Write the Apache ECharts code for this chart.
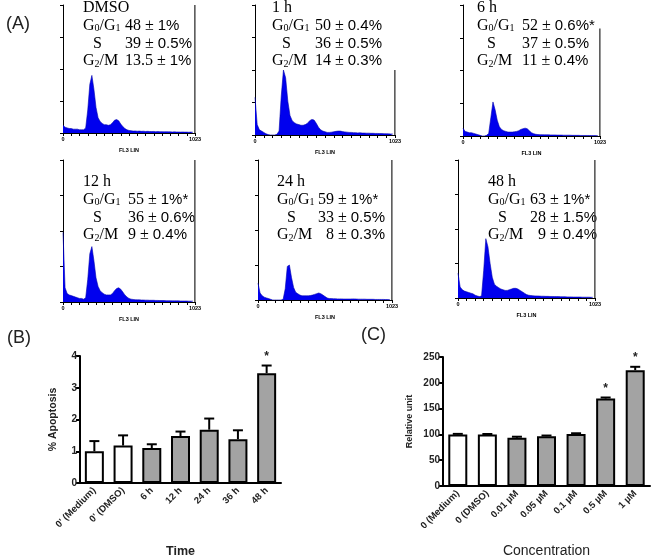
<!DOCTYPE html>
<html>
<head>
<meta charset="utf-8">
<script src="https://cdn.jsdelivr.net/npm/echarts@6/dist/echarts.min.js"></script>
<style>html,body{margin:0;padding:0;background:#fff}#main{width:653px;height:559px}</style>
</head>
<body>
<div id="main"></div>
<script>
// (A) DNA histograms, 16-channel bins from channel 0, % of full scale
var binStep = 16;
var histDMSO = [6,4.5,4,3.5,3.5,3,3,3,2.5,2.5, 2.5,4,18,38,45,34,20,12,9,7.5, 6.5,6.5,6,6.5,8,10,10.5,9.5,7,5, 3.5,2.5,2,1.8,1.5,1.6,1.4,1.5,1.3,1.4, 1.2,1.3,1.2,1.1,1.2,1.0,1.1,1.0,1.0,0.9, 1.0,0.9,0.9,0.8,0.9,0.8,0.8,0.7,0.8,0.7, 0.7,0.6,0.7,0.6];
var hist1h = [29,8,4,3,2,1,0.3,0,0,0, 0.5,3,30,50,44,26,15,11,9.5,8.5, 8,7.5,7.5,8,9,11,12,11.5,9,6, 4,3,2.5,2,2,2.2,2.5,2.8,3,3, 2.6,2.4,2.2,2,2,1.8,1.8,1.6,1.7,1.5, 1.5,1.4,1.4,1.3,1.3,1.2,1.2,1.1,1.1,1, 1,0.9,0.8,0.8];
var hist6h = [6,3.5,3,2.5,2.5,2,1.5,1,0.5,0, 0,0.5,2,14,26,20,12,7,5,4, 3.5,3,3,3,3.2,3.5,4,5,5.5,6, 5.5,4,2.5,1.8,1.3,1.1,1,1,0.9,0.9, 0.9,0.8,0.8,0.8,0.7,0.7,0.7,0.6,0.6,0.6, 0.6,0.5,0.5,0.5,0.5,0.4,0.4,0.4,0.4,0.4, 0.3,0.3,0.3,0.3];
var hist12h = [49,10,6,5,4.5,4,3.5,3,2.5,2.5, 2,3,16,34,39,29,17,11,8,6.5, 5.5,5,5,5,6,8,9.5,10,9,7, 5,3.5,2.5,2,1.8,1.6,1.5,1.5,1.4,1.4, 1.3,1.3,1.2,1.2,1.2,1.1,1.1,1,1,1, 0.9,0.9,0.9,0.8,0.8,0.8,0.8,0.7,0.7,0.7, 0.7,0.6,0.6,0.6];
var hist24h = [12,5,3,2,1.5,1,0.5,0,0,0, 0,0,0.5,8,24,25,16,9,5.5,4.5, 3.5,3,3,3,3,3.2,3.5,4,4.5,5, 4.5,3.5,2.5,1.5,1,1,0.9,0.9,0.8,0.8, 0.8,0.7,0.7,0.7,0.7,0.8,0.8,0.7,0.6,0.6, 0.6,0.6,0.5,0.5,0.5,0.5,0.4,0.4,0.4,0.4, 0.4,0.3,0.3,0.3];
var hist48h = [18,8,6,5,4.5,4,3.5,3,2,1.5, 1,1.5,20,43,37,25,15,10,8.5,7.5, 6.5,6,5.5,5.5,6,6.5,7,7,6.5,5.5, 4.5,3.5,2.5,2,1.8,1.6,1.5,1.5,1.4,1.3, 1.3,1.2,1.2,1.1,1.1,1,1,1,0.9,0.9, 0.9,0.8,0.8,0.8,0.7,0.7,0.7,0.7,0.6,0.6, 0.6,0.6,0.5,0.5];
var histAll = [histDMSO, hist1h, hist6h, hist12h, hist24h, hist48h];
var overflow = [100, 50, 82, 100, 100, 100]; // last channel (1023) pile-up

var panelTitles = ['DMSO', '1 h', '6 h', '12 h', '24 h', '48 h'];
var g01Vals = ['48 ± 1%', '50 ± 0.4%', '52 ± 0.6%*', '55 ± 1%*', '59 ± 1%*', '63 ± 1%*'];
var sVals = ['39 ± 0.5%', '36 ± 0.5%', '37 ± 0.5%', '36 ± 0.6%', '33 ± 0.5%', '28 ± 1.5%'];
var g2mVals = ['13.5 ± 1%', '14 ± 0.3%', '11 ± 0.4%', '9 ± 0.4%', '\u20078 ± 0.3%', '\u20079 ± 0.4%'];

// (B) apoptosis
var apopCats = ["0' (Medium)", "0' (DMSO)", '6 h', '12 h', '24 h', '36 h', '48 h'];
var apopVals = [1.0, 1.18, 1.1, 1.48, 1.68, 1.38, 3.46];
var apopErrTop = [1.32, 1.5, 1.22, 1.62, 2.03, 1.66, 3.7];
var apopStar = [0, 0, 0, 0, 0, 0, 1];

// (C) concentration
var concCats = ['0 (Medium)', '0 (DMSO)', '0.01 µM', '0.05 µM', '0.1 µM', '0.5 µM', '1 µM'];
var concVals = [100, 100, 93.5, 96.5, 101, 169.5, 224.5];
var concErrTop = [101, 100.8, 95.5, 97.8, 102.2, 171.5, 231];
var concStar = [0, 0, 0, 0, 0, 1, 1];

var myChart = echarts.init(document.getElementById('main'));

// histogram boxes: left, top, width, height
var boxes = [[63,5,132,128],[255,5,140,130],[463,5,137,131],[63,160,132,142],[258,160,134,140],[458,160,137,138]];
// label x, value x, first line y
var textPos = [[83,125,8],[272,315,8],[477,522,8],[83,128,182],[277,318,182],[488,530,182]];

var serif = '"Liberation Serif", "Times New Roman", serif';
var sans = '"Liberation Sans", Arial, sans-serif';
var blk = '#000';

var grids = [], xAxes = [], yAxes = [], series = [], graphics = [];

histAll.forEach(function (h, i) {
    var b = boxes[i];
    grids.push({left: b[0], top: b[1], width: b[2], height: b[3]});
    xAxes.push({
        type: 'value', gridIndex: i, min: 0, max: 1024, interval: 64,
        axisLine: {lineStyle: {color: blk, width: 1}},
        axisTick: {length: 3, lineStyle: {color: blk}},
        splitLine: {show: false},
        axisLabel: {
            fontSize: 5.5, fontWeight: 'bold', color: blk, margin: 3, fontFamily: sans,
            showMinLabel: true, showMaxLabel: true,
            formatter: function (v) { return v === 0 ? '0' : (v >= 1024 ? '1023' : ''); }
        },
        name: 'FL3 LIN', nameLocation: 'middle', nameGap: 14,
        nameTextStyle: {fontSize: 5.5, fontWeight: 'bold', color: blk, fontFamily: sans}
    });
    yAxes.push({
        type: 'value', gridIndex: i, min: 0, max: 100, interval: 25,
        axisLine: {show: true, lineStyle: {color: blk, width: 1}},
        axisTick: {show: true, length: 3, lineStyle: {color: blk}},
        axisLabel: {show: false},
        splitLine: {show: false}
    });
    series.push({
        type: 'line', xAxisIndex: i, yAxisIndex: i,
        data: h.map(function (v, k) { return [k * binStep, v]; }),
        showSymbol: false, symbol: 'none', clip: true,
        lineStyle: {color: '#0000b0', width: 0.6},
        areaStyle: {color: '#0000ee', opacity: 1}
    });
    series.push({
        type: 'line', xAxisIndex: i, yAxisIndex: i,
        data: [[1023, 0], [1023, overflow[i]]],
        showSymbol: false, symbol: 'none', clip: true,
        lineStyle: {color: '#333', width: 1.3}
    });

    var t = textPos[i], lh = 17.7;
    var rich = {
        g: {fontFamily: serif, fontSize: 16, color: '#111', lineHeight: 16},
        b: {fontFamily: serif, fontSize: 10, color: '#111', lineHeight: 8, verticalAlign: 'bottom'},
        a: {fontFamily: sans, fontSize: 15, color: '#111', lineHeight: 16}
    };
    function val(v) {
        var p = v.split('± ');
        return '{g|' + p[0] + '± }{a|' + p[1] + '}';
    }
    function txt(x, y, s) {
        graphics.push({type: 'text', x: x, y: y, style: {text: s, rich: rich, verticalAlign: 'middle', align: 'left'}});
    }
    txt(t[0], t[2], '{g|' + panelTitles[i] + '}');
    txt(t[0], t[2] + lh, '{g|G}{b|0}{g|/G}{b|1}');
    txt(t[1], t[2] + lh, val(g01Vals[i]));
    txt(t[0] + 10, t[2] + 2 * lh, '{g|S}');
    txt(t[1], t[2] + 2 * lh, val(sVals[i]));
    txt(t[0], t[2] + 3 * lh, '{g|G}{b|2}{g|/M}');
    txt(t[1], t[2] + 3 * lh, val(g2mVals[i]));
});

function barPanel(idx, box, cats, vals, errTop, stars, yMax, yInt, yName, yNameGap, yNameSize, xName, xNameGap, xNameStyle) {
    grids.push({left: box[0], top: box[1], width: box[2], height: box[3]});
    xAxes.push({
        type: 'category', gridIndex: idx, data: cats,
        axisLine: {lineStyle: {color: blk, width: 2}},
        axisTick: {alignWithLabel: true, length: 4, lineStyle: {color: blk, width: 1.5}},
        axisLabel: {rotate: 45, fontSize: 9.5, fontWeight: 'bold', color: '#222', margin: 6, fontFamily: sans, interval: 0},
        name: xName, nameLocation: 'middle', nameGap: xNameGap, nameTextStyle: xNameStyle
    });
    yAxes.push({
        type: 'value', gridIndex: idx, min: 0, max: yMax, interval: yInt,
        axisLine: {show: true, lineStyle: {color: blk, width: 2}},
        axisTick: {show: true, length: 4, lineStyle: {color: blk, width: 2}},
        axisLabel: {fontSize: 10, fontWeight: 'bold', color: '#222', margin: 3, fontFamily: sans},
        splitLine: {show: false},
        name: yName, nameLocation: 'middle', nameGap: yNameGap,
        nameTextStyle: {fontSize: yNameSize, fontWeight: 'bold', color: '#222', fontFamily: sans}
    });
    series.push({
        type: 'custom', xAxisIndex: idx, yAxisIndex: idx, z: 1,
        data: vals.map(function (v, k) { return [k, v, errTop[k], stars[k]]; }),
        renderItem: function (params, api) {
            var p0 = api.coord([api.value(0), api.value(1)]);
            var p1 = api.coord([api.value(0), api.value(2)]);
            var kids = [
                {type: 'line', shape: {x1: p0[0], y1: p0[1], x2: p1[0], y2: p1[1]}, style: {stroke: blk, lineWidth: 2}},
                {type: 'line', shape: {x1: p1[0] - 5, y1: p1[1], x2: p1[0] + 5, y2: p1[1]}, style: {stroke: blk, lineWidth: 2}}
            ];
            if (api.value(3)) {
                kids.push({type: 'text', x: p1[0], y: p1[1] - 9, style: {text: '*', fontSize: 12, fontWeight: 'bold', fill: '#222', align: 'center', verticalAlign: 'middle', fontFamily: sans}});
            }
            return {type: 'group', children: kids};
        }
    });
    series.push({
        type: 'bar', xAxisIndex: idx, yAxisIndex: idx, z: 2, barWidth: 19,
        data: vals.map(function (v, k) {
            return {value: v, itemStyle: {color: k < 2 ? '#fff' : '#a3a3a3', borderColor: blk, borderWidth: 2}};
        })
    });
}

barPanel(6, [80, 356, 201, 134], apopCats, apopVals, apopErrTop, apopStar, 4, 1,
    '% Apoptosis', 21, 10.5, 'Time', 62, {fontSize: 12.5, fontWeight: 'bold', color: '#222', fontFamily: sans});
barPanel(7, [443, 357, 207, 137], concCats, concVals, concErrTop, concStar, 250, 50,
    'Relative unit', 29, 9, 'Concentration', 58, {fontSize: 14, color: '#222', fontFamily: sans});

[['(A)', 6, 24], ['(B)', 7, 338], ['(C)', 361, 335]].forEach(function (l) {
    graphics.push({type: 'text', x: l[1], y: l[2], style: {text: l[0], fontSize: 18, fontFamily: sans, fill: '#222', verticalAlign: 'middle'}});
});

var option = {
    animation: false,
    backgroundColor: '#fff',
    grid: grids,
    xAxis: xAxes,
    yAxis: yAxes,
    series: series,
    graphic: graphics
};
myChart.setOption(option);
</script>
</body>
</html>
